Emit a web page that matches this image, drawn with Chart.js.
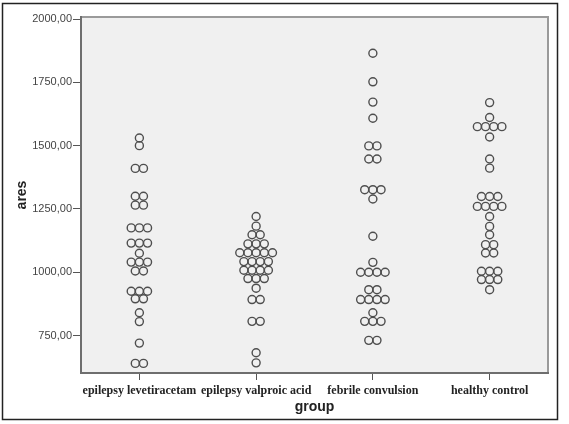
<!DOCTYPE html>
<html>
<head>
<meta charset="utf-8">
<script src="https://cdn.jsdelivr.net/npm/chart.js@4"></script>
<style>
  html, body { margin: 0; padding: 0; background: #fff; }
  canvas { display: block; }
</style>
</head>
<body>
<canvas id="dotChart" width="569" height="424"></canvas>
<script>
// groups on the x axis
const groups = ["epilepsy levetiracetam", "epilepsy valproic acid", "febrile convulsion", "healthy control"];

// ares values per group (repeats = dots stacked side by side)
const levetiracetam = [1530, 1500, 1410, 1410, 1300, 1300, 1265, 1265, 1175, 1175, 1175,
  1115, 1115, 1115, 1075, 1040, 1040, 1040, 1005, 1005, 925, 925, 925, 895, 895,
  840, 805, 720, 640, 640];
const valproic = [1220, 1182, 1148, 1148, 1112, 1112, 1112, 1077, 1077, 1077, 1077, 1077,
  1042, 1042, 1042, 1042, 1008, 1008, 1008, 1008, 975, 975, 975, 937, 892, 892,
  806, 806, 682, 642];
const febrile = [1865, 1752, 1672, 1608, 1499, 1499, 1447, 1447, 1326, 1326, 1326, 1289,
  1142, 1039, 1000, 1000, 1000, 1000, 931, 931, 892, 892, 892, 892, 840,
  806, 806, 806, 731, 731];
const healthy = [1670, 1611, 1575, 1575, 1575, 1575, 1534, 1447, 1411, 1299, 1299, 1299,
  1260, 1260, 1260, 1260, 1220, 1181, 1148, 1109, 1109, 1076, 1076,
  1004, 1004, 1004, 971, 971, 971, 931];

const yTicks = [750, 1000, 1250, 1500, 1750, 2000];

const DOT_STEP = 0.07; // sideways spacing of stacked dots, in category units

function stackDots(values, center) {
  const counts = {};
  values.forEach(v => { counts[v] = (counts[v] || 0) + 1; });
  const pts = [];
  Object.keys(counts).forEach(k => {
    const n = counts[k];
    for (let i = 0; i < n; i++) {
      pts.push({ x: center + (i - (n - 1) / 2) * DOT_STEP, y: Number(k) });
    }
  });
  return pts;
}

const series = [levetiracetam, valproic, febrile, healthy];

const frame = {
  id: "frame",
  beforeDraw(chart) {
    const { ctx, chartArea: a } = chart;
    ctx.save();
    ctx.fillStyle = "#f0f0f0";
    ctx.fillRect(a.left, a.top, a.right - a.left, a.bottom - a.top);
    ctx.strokeStyle = "#9a9a9a";
    ctx.lineWidth = 2;
    ctx.beginPath();
    ctx.moveTo(a.left, a.top);
    ctx.lineTo(a.right, a.top);
    ctx.lineTo(a.right, a.bottom);
    ctx.stroke();
    ctx.restore();
  },
  afterDraw(chart) {
    const ctx = chart.ctx;
    ctx.save();
    ctx.strokeStyle = "#222";
    ctx.lineWidth = 1.5;
    ctx.strokeRect(2.5, 3.5, 555, 416);
    ctx.restore();
  }
};

new Chart(document.getElementById("dotChart"), {
  type: "scatter",
  data: {
    datasets: series.map((vals, i) => ({
      label: groups[i],
      data: stackDots(vals, i + 1),
      pointRadius: 4,
      pointBorderWidth: 1.4,
      pointBorderColor: "#4e4e4e",
      pointBackgroundColor: "rgba(0,0,0,0)"
    }))
  },
  options: {
    responsive: false,
    animation: false,
    layout: { padding: { top: 17, right: 21, bottom: 0, left: 0 } },
    plugins: { legend: { display: false }, tooltip: { enabled: false } },
    scales: {
      x: {
        type: "linear",
        min: 0.5,
        max: 4.5,
        afterBuildTicks: s => { s.ticks = groups.map((g, i) => ({ value: i + 1 })); },
        afterFit: s => { s.height = 51; },
        ticks: {
          callback: v => groups[v - 1],
          font: { family: "Liberation Serif", size: 12, weight: "bold" },
          color: "#222",
          padding: 4,
          maxRotation: 0,
          autoSkip: false
        },
        grid: { drawOnChartArea: false, tickLength: 7, tickColor: "#555", tickWidth: 1 },
        border: { color: "#6e6e6e", width: 2 },
        title: {
          display: true,
          text: "group",
          color: "#222",
          font: { family: "Liberation Sans", size: 14, weight: "bold" },
          padding: { top: 0, bottom: 8 }
        }
      },
      y: {
        min: 602,
        max: 2008,
        afterBuildTicks: s => { s.ticks = yTicks.map(v => ({ value: v })); },
        afterFit: s => { s.width = 81; },
        ticks: {
          callback: v => v.toFixed(2).replace(".", ","),
          font: { family: "Liberation Sans", size: 11 },
          color: "#444",
          padding: 1
        },
        grid: { drawOnChartArea: false, tickLength: 8, tickColor: "#555", tickWidth: 1 },
        border: { color: "#6e6e6e", width: 2 },
        title: {
          display: true,
          text: "ares",
          color: "#222",
          font: { family: "Liberation Sans", size: 14, weight: "bold" },
          padding: { top: 14, bottom: 0 }
        }
      }
    }
  },
  plugins: [frame]
});
</script>
</body>
</html>
